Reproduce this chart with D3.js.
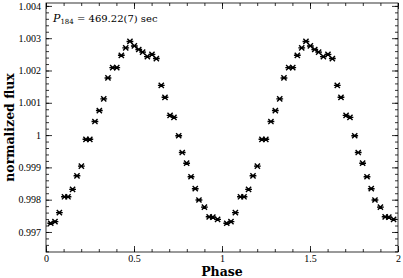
<!DOCTYPE html>
<html lang="en">
<head>
<meta charset="utf-8">
<title>Phase folded light curve</title>
<script src="https://cdn.jsdelivr.net/npm/d3@7"></script>
<style>
  body { margin: 0; background: #fff; }
</style>
</head>
<body>
<div id="chart"></div>
<script>
// phase (one cycle, repeated to 2) and normalized flux
var phase = [0.027, 0.051, 0.076, 0.105, 0.125, 0.151, 0.176, 0.201, 0.227, 0.249,
             0.278, 0.303, 0.328, 0.352, 0.379, 0.402, 0.428, 0.453, 0.477, 0.502,
             0.527, 0.549, 0.576, 0.602, 0.627, 0.655, 0.676, 0.705, 0.727, 0.754,
             0.774, 0.799, 0.824, 0.848, 0.869, 0.900, 0.927, 0.948, 0.975]
var flux = [0.99727, 0.99732, 0.99760, 0.99809, 0.99809, 0.99832, 0.99874, 0.99904, 0.99987, 0.99987,
            1.00042, 1.00076, 1.00112, 1.00177, 1.00209, 1.00209, 1.00247, 1.00270, 1.00290, 1.00276,
            1.00265, 1.00257, 1.00243, 1.00250, 1.00237, 1.00154, 1.00117, 1.00061, 1.00055, 0.99998,
            0.99946, 0.99913, 0.99871, 0.99834, 0.99799, 0.99777, 0.99747, 0.99746, 0.99739]
var cycles = [0, 1]
var xTicks = [0, 0.5, 1, 1.5, 2]
var yTicks = [0.997, 0.998, 0.999, 1, 1.001, 1.002, 1.003, 1.004]

var w = 403, h = 278
var m = {left: 46, right: 5, top: 3, bottom: 26}

var svg = d3.select("#chart").append("svg")
    .attr("width", w)
    .attr("height", h)

var x = d3.scaleLinear().domain([0, 2]).range([m.left, w - m.right])
var y = d3.scaleLinear().domain([0.99638, 1.00409]).range([h - m.bottom, m.top])

var xMinor = d3.range(0, 2.001, 0.1)
var yMinor = d3.range(0.9964, 1.0041, 0.0002)

// frame + inward ticks on all four sides
function addAxis(axis, tx) {
    var g = svg.append("g").attr("transform", tx).call(axis)
    g.select(".domain").remove()
    g.selectAll("line").attr("stroke", "#000").attr("stroke-width", 0.8)
    return g
}

var major = 6, minor = 3
// bottom
addAxis(d3.axisBottom(x).tickValues(xMinor).tickSize(-minor).tickFormat(""), "translate(0," + y.range()[0] + ")")
var gx = addAxis(d3.axisBottom(x).tickValues(xTicks).tickSize(-major).tickPadding(3)
    .tickFormat(function(d) { return d }), "translate(0," + y.range()[0] + ")")
gx.selectAll("text").attr("font-size", "10px").attr("fill", "#000")
    .attr("font-family", "Liberation Serif")
// top
addAxis(d3.axisTop(x).tickValues(xMinor).tickSize(-minor).tickFormat(""), "translate(0," + m.top + ")")
addAxis(d3.axisTop(x).tickValues(xTicks).tickSize(-major).tickFormat(""), "translate(0," + m.top + ")")
// left
addAxis(d3.axisLeft(y).tickValues(yMinor).tickSize(-minor).tickFormat(""), "translate(" + m.left + ",0)")
var gy = addAxis(d3.axisLeft(y).tickValues(yTicks).tickSize(-major).tickPadding(5)
    .tickFormat(function(d) { return d === 1 ? "1" : d3.format(".3f")(d) }), "translate(" + m.left + ",0)")
gy.selectAll("text").attr("font-size", "10px").attr("fill", "#000")
    .attr("font-family", "Liberation Serif")
// right
addAxis(d3.axisRight(y).tickValues(yMinor).tickSize(-minor).tickFormat(""), "translate(" + (w - m.right) + ",0)")
addAxis(d3.axisRight(y).tickValues(yTicks).tickSize(-major).tickFormat(""), "translate(" + (w - m.right) + ",0)")

svg.append("rect")
    .attr("x", m.left).attr("y", m.top)
    .attr("width", w - m.right - m.left)
    .attr("height", h - m.bottom - m.top)
    .attr("fill", "none").attr("stroke", "#000").attr("stroke-width", 0.8)

// points, folded over two cycles
var pts = []
cycles.forEach(function(c) {
    phase.forEach(function(p, i) { pts.push({p: p + c, f: flux[i]}) })
})

svg.selectAll(".pt")
    .data(pts)
    .enter()
    .append("path")
    .attr("class", "pt")
    .attr("transform", function(d) { return "translate(" + x(d.p) + "," + y(d.f) + ")" })
    .attr("d", "M-2.6,-2.6L2.6,2.6M-2.6,2.6L2.6,-2.6M-3.4,0L3.4,0")
    .attr("stroke", "#000")
    .attr("stroke-width", 1.4)
    .attr("fill", "none")

// labels
svg.append("text")
    .attr("x", (x(0) + x(2)) / 2)
    .attr("y", 276)
    .attr("text-anchor", "middle")
    .attr("font-family", "DejaVu Serif")
    .attr("font-size", "12.5px")
    .attr("font-weight", "bold")
    .text("Phase")

svg.append("text")
    .attr("transform", "translate(14," + (y.range()[0] + y.range()[1]) / 2 + ") rotate(-90)")
    .attr("text-anchor", "middle")
    .attr("font-family", "DejaVu Serif")
    .attr("font-size", "12.5px")
    .attr("font-weight", "bold")
    .text("normalized flux")

var ann = svg.append("text")
    .attr("x", 53)
    .attr("y", 22)
    .attr("font-family", "DejaVu Serif")
    .attr("font-size", "10px")
ann.append("tspan").attr("font-style", "italic").attr("font-size", "11px").text("P")
ann.append("tspan").attr("font-size", "7px").attr("dy", 2).text("184")
ann.append("tspan").attr("dy", -2).text(" = 469.22(7) sec")
</script>
</body>
</html>
